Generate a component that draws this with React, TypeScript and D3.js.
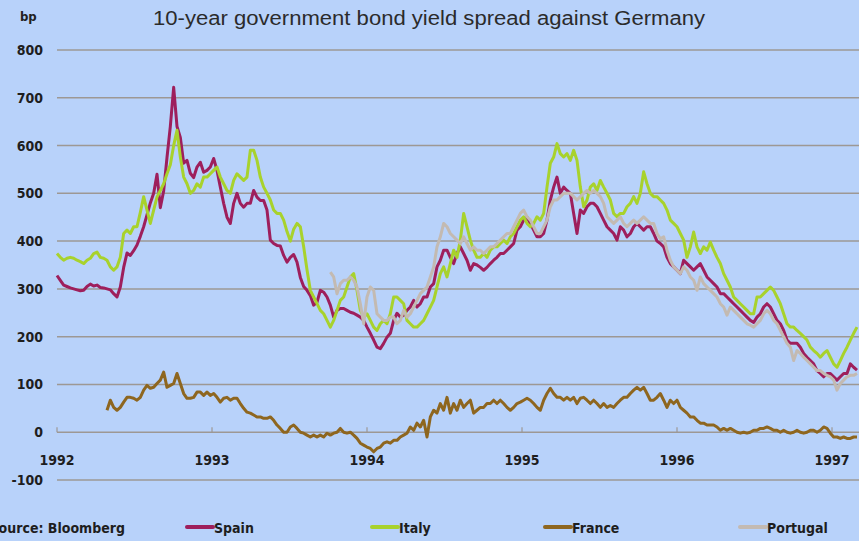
import React, { useEffect, useRef } from "react";
import * as d3 from "d3";

// spreads in basis points, sampled roughly every 8 days (46.5 samples a year)
const STEP = 1 / 46.5;
const START = 1992;
const FRANCE_START = START + 15 * STEP;
const PORTUGAL_START = START + 82 * STEP;

const spain = [
  328, 318, 308, 305, 302, 300, 298, 296, 297, 305, 310, 306, 308, 303, 302, 300, 298, 290, 283, 304,
  345, 375, 370, 380, 392, 410, 430, 455, 480, 500, 540, 470, 505, 575, 640, 722, 640, 617, 563, 569,
  542, 533, 555, 565, 544, 548, 555, 573, 548, 513, 479, 450, 437, 479, 500, 479, 471, 479, 479, 506,
  492, 485, 485, 465, 402, 395, 391, 390, 370, 356, 366, 372, 356, 324, 305, 297, 286, 266, 272, 297,
  293, 283, 266, 241, 255, 259, 259, 255, 251, 249, 245, 241, 234, 220, 207, 193, 178, 175, 186, 199,
  207, 234, 249, 241, 245, 255, 262, 276, 262, 269, 283, 283, 304, 311, 346, 360, 381, 381, 366, 353,
  374, 388, 374, 360, 339, 353, 350, 345, 339, 345, 353, 360, 366, 374, 374, 381, 388, 395, 423, 430,
  444, 450, 437, 423, 409, 409, 416, 444, 486, 513, 534, 500, 513, 506, 500, 458, 416, 465, 458, 472,
  479, 479, 472, 458, 444, 430, 423, 416, 402, 430, 423, 409, 416, 430, 437, 430, 423, 430, 430, 416,
  400, 395, 388, 366, 353, 346, 339, 332, 360, 353, 346, 339, 346, 353, 339, 325, 318, 311, 304, 290,
  290, 283, 276, 269, 262, 255, 248, 241, 234, 230, 241, 248, 262, 269, 262, 248, 234, 227, 213, 193,
  186, 186, 186, 178, 165, 157, 150, 143, 129, 123, 116, 123, 123, 116, 109, 116, 123, 123, 143, 136,
  130,
];

const italy = [
  374, 366, 360, 364, 366, 364, 360, 357, 353, 360, 364, 374, 377, 366, 364, 360, 346, 339, 346, 366,
  416, 423, 416, 430, 430, 460, 493, 465, 437, 465, 492, 506, 520, 541, 560, 600, 632, 576, 534, 520,
  500, 506, 520, 513, 534, 534, 541, 548, 555, 534, 520, 506, 500, 527, 541, 534, 527, 534, 590, 590,
  569, 534, 513, 500, 486, 465, 458, 458, 444, 420, 400, 425, 437, 430, 388, 340, 297, 283, 269, 255,
  248, 234, 220, 234, 255, 276, 283, 304, 325, 332, 297, 255, 241, 248, 234, 220, 213, 227, 234, 227,
  248, 283, 283, 276, 269, 234, 227, 220, 220, 227, 234, 248, 262, 276, 304, 332, 346, 325, 353, 381,
  366, 402, 458, 430, 402, 381, 366, 366, 374, 366, 381, 388, 388, 395, 402, 395, 409, 416, 430, 444,
  451, 437, 430, 437, 451, 444, 458, 513, 563, 576, 604, 583, 576, 583, 569, 590, 569, 513, 472, 486,
  513, 520, 506, 527, 513, 500, 486, 458, 451, 458, 458, 472, 479, 493, 479, 500, 545, 520, 500, 493,
  493, 486, 479, 465, 444, 437, 430, 416, 402, 366, 388, 419, 388, 374, 388, 381, 398, 381, 366, 353,
  332, 318, 304, 283, 276, 269, 262, 255, 248, 248, 283, 283, 290, 297, 304, 297, 283, 269, 248, 227,
  220, 220, 213, 207, 200, 193, 178, 171, 165, 157, 165, 171, 157, 143, 136, 150, 165, 178, 193, 207,
  220,
];

const france = [
  46, 67, 52, 46, 52, 63, 73, 73, 71, 67, 73, 88, 98, 92, 94, 102, 109, 126, 94, 98,
  102, 123, 102, 81, 71, 71, 73, 84, 84, 77, 84, 77, 81, 73, 63, 71, 73, 67, 71, 71,
  60, 50, 42, 40, 36, 32, 32, 29, 29, 32, 25, 15, 8, 0, 0, 11, 15, 8, 0, -2,
  -6, -10, -6, -10, -6, -10, -2, -6, -2, 0, 8, 0, -2, 0, -6, -13, -23, -27, -31, -34,
  -41, -34, -31, -23, -20, -23, -17, -17, -10, -6, -2, 11, 4, 19, 11, 25, -10, 32, 46, 40,
  60, 46, 73, 40, 60, 46, 67, 52, 60, 67, 40, 46, 52, 52, 60, 60, 67, 60, 67, 60,
  52, 46, 52, 60, 63, 67, 71, 67, 60, 52, 46, 67, 81, 92, 81, 73, 73, 67, 73, 67,
  73, 60, 71, 73, 67, 60, 67, 60, 52, 60, 52, 56, 52, 60, 67, 73, 73, 81, 88, 94,
  88, 94, 81, 67, 67, 73, 81, 67, 52, 67, 60, 67, 52, 46, 40, 32, 32, 25, 19, 19,
  15, 15, 15, 11, 4, 8, 4, 8, 4, 0, -2, 0, -2, 0, 4, 4, 8, 8, 11, 8,
  4, 4, 0, 4, 0, -2, 0, 4, 0, -2, 0, 4, 4, 0, 4, 11, 8, -2, -10, -10,
  -13, -10, -13, -13, -10, -10,
];

const portugal = [
  335, 325, 290, 311, 318, 318, 325, 318, 304, 269, 227, 283, 304, 297, 248, 241, 234, 234, 241, 241,
  227, 234, 255, 241, 248, 262, 276, 290, 297, 304, 325, 346, 388, 409, 437, 430, 416, 409, 402, 395,
  409, 395, 381, 388, 381, 381, 374, 381, 388, 388, 395, 402, 409, 416, 416, 430, 444, 458, 465, 451,
  444, 430, 416, 416, 430, 444, 472, 486, 486, 493, 500, 500, 500, 493, 486, 493, 500, 506, 500, 506,
  500, 493, 479, 451, 444, 437, 444, 451, 437, 430, 437, 444, 437, 444, 451, 444, 437, 437, 416, 405,
  409, 381, 360, 346, 339, 332, 346, 339, 325, 318, 297, 325, 311, 304, 297, 290, 283, 269, 262, 245,
  262, 255, 248, 241, 234, 227, 224, 220, 227, 234, 248, 255, 248, 234, 227, 213, 200, 186, 178, 150,
  171, 165, 157, 150, 143, 136, 129, 129, 123, 119, 116, 109, 88, 102, 109, 116, 119, 119, 123,
];

const yTicks = [800, 700, 600, 500, 400, 300, 200, 100, 0, -100];
const years = [1992, 1993, 1994, 1995, 1996, 1997];

const series = [
  { name: "Spain", values: spain, start: START, color: "#9e1f5c" },
  { name: "Italy", values: italy, start: START, color: "#a8d22c" },
  { name: "France", values: france, start: FRANCE_START, color: "#8e661f" },
  { name: "Portugal", values: portugal, start: PORTUGAL_START, color: "#c3bab2" },
];

const labelFont = "'DejaVu Sans Condensed', 'DejaVu Sans', sans-serif";

const App: React.FC = () => {
  const svgRef = useRef<SVGSVGElement>(null);

  useEffect(() => {
    const svg = d3.select(svgRef.current);
    svg.selectAll("*").remove();

    const x = d3.scaleLinear().domain([1992, 1997]).range([57, 832]);
    const y = d3.scaleLinear().domain([-100, 800]).range([480, 50]);

    svg.append("rect").attr("width", 859).attr("height", 541).attr("fill", "#b8d2fa");

    // title and unit
    svg
      .append("text")
      .attr("x", 153)
      .attr("y", 25)
      .attr("font-family", "'Liberation Sans', Arial, sans-serif")
      .attr("font-size", 20)
      .attr("fill", "#2b2b2b")
      .attr("textLength", 552)
      .attr("lengthAdjust", "spacingAndGlyphs")
      .text("10-year government bond yield spread against Germany");

    svg
      .append("text")
      .attr("x", 20)
      .attr("y", 21)
      .attr("font-family", labelFont)
      .attr("font-weight", "bold")
      .attr("font-size", 13)
      .attr("fill", "#222")
      .text("bp");

    // horizontal grid lines
    svg
      .append("g")
      .selectAll("line")
      .data(yTicks)
      .join("line")
      .attr("x1", 57)
      .attr("x2", 859)
      .attr("y1", (d) => y(d))
      .attr("y2", (d) => y(d))
      .attr("stroke", "#9d9894")
      .attr("stroke-width", 1.5);

    // y labels
    svg
      .append("g")
      .selectAll("text")
      .data(yTicks)
      .join("text")
      .attr("x", 43)
      .attr("y", (d) => y(d))
      .attr("dy", "0.36em")
      .attr("text-anchor", "end")
      .attr("font-family", labelFont)
      .attr("font-weight", "bold")
      .attr("font-size", 14)
      .attr("fill", "#1e1e1e")
      .text((d) => String(d));

    // year ticks on the zero line
    svg
      .append("g")
      .selectAll("line")
      .data(years)
      .join("line")
      .attr("x1", (d) => x(d))
      .attr("x2", (d) => x(d))
      .attr("y1", y(0))
      .attr("y2", y(0) - 5)
      .attr("stroke", "#9d9894")
      .attr("stroke-width", 1.2);

    svg
      .append("g")
      .selectAll("text")
      .data(years)
      .join("text")
      .attr("x", (d) => x(d))
      .attr("y", 465)
      .attr("text-anchor", "middle")
      .attr("font-family", labelFont)
      .attr("font-weight", "bold")
      .attr("font-size", 14)
      .attr("fill", "#1e1e1e")
      .text((d) => String(d));

    // the four spread lines
    series.forEach((s) => {
      const line = d3
        .line<number>()
        .x((_, i) => x(s.start + i * STEP))
        .y((d) => y(d));
      svg
        .append("path")
        .datum(s.values)
        .attr("fill", "none")
        .attr("stroke", s.color)
        .attr("stroke-width", 3)
        .attr("stroke-linejoin", "round")
        .attr("d", line);
    });

    // source + legend
    svg
      .append("text")
      .attr("x", 125)
      .attr("y", 533)
      .attr("text-anchor", "end")
      .attr("font-family", labelFont)
      .attr("font-weight", "bold")
      .attr("font-size", 14)
      .attr("fill", "#1e1e1e")
      .text("Source: Bloomberg");

    const legendX = [187, 372, 545, 740];
    const legend = svg
      .append("g")
      .selectAll("g")
      .data(series)
      .join("g")
      .attr("transform", (_, i) => `translate(${legendX[i]},527)`);
    legend
      .append("line")
      .attr("x1", 0)
      .attr("x2", 26)
      .attr("stroke", (d) => d.color)
      .attr("stroke-width", 4)
      .attr("stroke-linecap", "round");
    legend
      .append("text")
      .attr("x", 27)
      .attr("y", 6)
      .attr("font-family", labelFont)
      .attr("font-weight", "bold")
      .attr("font-size", 14)
      .attr("fill", "#1e1e1e")
      .text((d) => d.name);

    return () => {
      svg.selectAll("*").remove();
    };
  }, []);

  return (
    <svg
      ref={svgRef}
      width={859}
      height={541}
      style={{ position: "absolute", left: 0, top: 0, display: "block" }}
    />
  );
};

export default App;
